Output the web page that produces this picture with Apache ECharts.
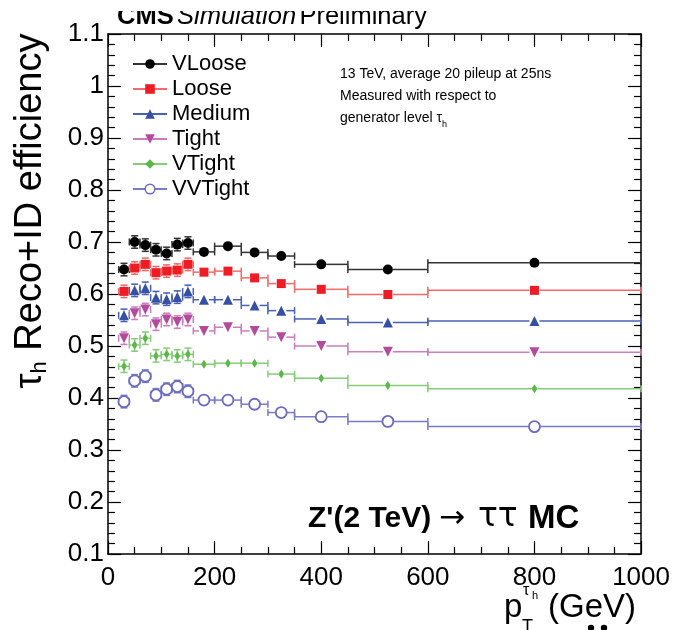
<!DOCTYPE html>
<html>
<head>
<meta charset="utf-8">
<script src="https://cdn.jsdelivr.net/npm/echarts@6/dist/echarts.min.js"></script>
<style>
  html, body { margin: 0; padding: 0; background: #fff; }
  #chart { width: 673px; height: 630px; }
</style>
</head>
<body>
<div id="chart"></div>
<script>
// Bin layout in generator-level tau pT (GeV)
const ptCenters = [30, 50, 70, 90, 110, 130, 150, 180, 225, 275, 325, 400, 525, 800];
const binLow    = [20, 40, 60, 80, 100, 120, 140, 160, 200, 250, 300, 350, 450, 600];
const binHigh   = [40, 60, 80, 100, 120, 140, 160, 200, 250, 300, 350, 450, 600, 1000];

// Reco+ID efficiency per working point
const vloose  = [0.647, 0.700, 0.694, 0.685, 0.678, 0.695, 0.698, 0.681, 0.692, 0.680, 0.673, 0.657, 0.647, 0.660];
const loose   = [0.605, 0.650, 0.657, 0.641, 0.644, 0.646, 0.657, 0.642, 0.644, 0.631, 0.620, 0.609, 0.599, 0.607];
const medium  = [0.559, 0.607, 0.611, 0.593, 0.590, 0.594, 0.605, 0.589, 0.589, 0.578, 0.568, 0.552, 0.545, 0.548];
const tight   = [0.515, 0.563, 0.570, 0.542, 0.551, 0.546, 0.551, 0.529, 0.536, 0.529, 0.517, 0.500, 0.489, 0.488];
const vtight  = [0.461, 0.502, 0.515, 0.481, 0.484, 0.481, 0.484, 0.465, 0.467, 0.467, 0.446, 0.438, 0.424, 0.418];
const vvtight = [0.393, 0.433, 0.442, 0.406, 0.417, 0.422, 0.413, 0.396, 0.396, 0.388, 0.372, 0.364, 0.355, 0.345];

// Statistical uncertainty per bin
const statErr = [0.012, 0.012, 0.012, 0.012, 0.012, 0.012, 0.012, 0.004, 0.004, 0.004, 0.004, 0.003, 0.003, 0.003];

// Axis ticks
const xTicks = [0, 200, 400, 600, 800, 1000];
const yTicks = [0.1, 0.2, 0.3, 0.4, 0.5, 0.6, 0.7, 0.8, 0.9, 1.0, 1.1];

const FONT = '"Liberation Sans", Arial, Helvetica, sans-serif';

const workingPoints = [
  { name: 'VLoose',  values: vloose,  color: '#000000', line: '#333333', symbol: 'circle',   size: 10, gap: 5, hollow: false },
  { name: 'Loose',   values: loose,   color: '#ee1c24', line: '#f26a6a', symbol: 'rect',     size: 9,  gap: 5, hollow: false },
  { name: 'Medium',  values: medium,  color: '#3650a6', line: '#4a60b0', symbol: 'triangle', size: 10, gap: 5, hollow: false },
  { name: 'Tight',   values: tight,   color: '#b44a9e', line: '#cc7cbc', symbol: 'path://M0,0 L10,0 L5,9 Z', size: 10, gap: 5, hollow: false },
  { name: 'VTight',  values: vtight,  color: '#5cb84a', line: '#86cc78', symbol: 'diamond',  size: [6, 9], gap: 3, hollow: false },
  { name: 'VVTight', values: vvtight, color: '#6a6abf', line: '#7a7ac6', symbol: 'circle',   size: 11, gap: 6, hollow: true }
];

function errorBarRenderer(gap, color) {
  return function (params, api) {
    const x = api.value(0), y = api.value(1);
    const xl = api.value(2), xh = api.value(3);
    const yl = api.value(4), yh = api.value(5);
    const c = api.coord([x, y]);
    const l = api.coord([xl, y]);
    const r = api.coord([xh, y]);
    const t = api.coord([x, yh]);
    const b = api.coord([x, yl]);
    const style = { stroke: color, lineWidth: 1.5 };
    const cap = 3.5;
    const kids = [];
    const seg = (x1, y1, x2, y2) => kids.push({ type: 'line', shape: { x1, y1, x2, y2 }, style });
    // horizontal bin-width bar, broken around the marker
    if (l[0] < c[0] - gap) seg(l[0], c[1], c[0] - gap, c[1]);
    if (r[0] > c[0] + gap) seg(c[0] + gap, c[1], r[0], c[1]);
    seg(l[0], c[1] - cap, l[0], c[1] + cap);
    seg(r[0], c[1] - cap, r[0], c[1] + cap);
    // vertical statistical bar
    if (t[1] < c[1] - gap) {
      seg(c[0], c[1] - gap, c[0], t[1]);
      seg(c[0] - cap, t[1], c[0] + cap, t[1]);
    }
    if (b[1] > c[1] + gap) {
      seg(c[0], c[1] + gap, c[0], b[1]);
      seg(c[0] - cap, b[1], c[0] + cap, b[1]);
    }
    return { type: 'group', children: kids };
  };
}

const series = [];
workingPoints.forEach(function (wp) {
  series.push({
    name: wp.name + ' err',
    type: 'custom',
    xAxisIndex: 0, yAxisIndex: 0,
    z: 2,
    silent: true,
    renderItem: errorBarRenderer(wp.gap, wp.line),
    data: ptCenters.map((p, i) => [p, wp.values[i], binLow[i], binHigh[i], wp.values[i] - statErr[i], wp.values[i] + statErr[i]])
  });
  series.push({
    name: wp.name,
    type: 'line',
    xAxisIndex: 0, yAxisIndex: 0,
    z: 3,
    symbol: wp.symbol,
    symbolSize: wp.size,
    showAllSymbol: true,
    lineStyle: { width: 0, opacity: 0, color: wp.line },
    itemStyle: wp.hollow
      ? { color: '#ffffff', borderColor: wp.color, borderWidth: 1.8 }
      : { color: wp.color, borderWidth: 0 },
    emphasis: { disabled: true },
    animation: false,
    data: ptCenters.map((p, i) => [p, wp.values[i]])
  });
});

const axisCommon = {
  axisLine: { show: true, onZero: false, lineStyle: { color: '#000', width: 1.5 } },
  splitLine: { show: false },
};
const tickStyle = { show: true, inside: true, length: 13, lineStyle: { color: '#000', width: 1.2 } };

const option = {
  animation: false,
  backgroundColor: '#ffffff',
  grid: { left: 108, right: 27, top: 34, bottom: 76, containLabel: false },
  legend: {
    orient: 'vertical',
    left: 127,
    top: 48,
    itemWidth: 34,
    itemHeight: 12,
    itemGap: 3,
    textStyle: { fontSize: 22, fontFamily: FONT, color: '#000' },
    selectedMode: false,
    data: workingPoints.map(wp => ({
      name: wp.name,
      lineStyle: { width: 2, opacity: 1, color: wp.line },
      itemStyle: wp.hollow
        ? { color: '#ffffff', borderColor: wp.color, borderWidth: 1.5 }
        : { color: wp.color }
    }))
  },
  xAxis: [
    Object.assign({}, axisCommon, {
      type: 'value', position: 'bottom',
      min: xTicks[0], max: xTicks[xTicks.length - 1], interval: 200,
      axisTick: tickStyle,
      minorTick: { show: true, splitNumber: 4, length: 7, lineStyle: { color: '#000', width: 1.2 } },
      axisLabel: { show: true, margin: 11, fontSize: 26, fontFamily: FONT, color: '#000',
        formatter: v => String(Math.round(v)) }
    }),
    Object.assign({}, axisCommon, {
      type: 'value', position: 'top',
      min: xTicks[0], max: xTicks[xTicks.length - 1], interval: 200,
      axisTick: tickStyle,
      minorTick: { show: true, splitNumber: 4, length: 7, lineStyle: { color: '#000', width: 1.2 } },
      axisLabel: { show: false }
    })
  ],
  yAxis: [
    Object.assign({}, axisCommon, {
      type: 'value', position: 'left',
      min: yTicks[0], max: yTicks[yTicks.length - 1], interval: 0.1,
      axisTick: tickStyle,
      minorTick: { show: true, splitNumber: 5, length: 7, lineStyle: { color: '#000', width: 1.2 } },
      axisLabel: { show: true, margin: 4, fontSize: 26, fontFamily: FONT, color: '#000',
        formatter: v => String(Math.round(v * 10) / 10) }
    }),
    Object.assign({}, axisCommon, {
      type: 'value', position: 'right',
      min: yTicks[0], max: yTicks[yTicks.length - 1], interval: 0.1,
      axisTick: tickStyle,
      minorTick: { show: true, splitNumber: 5, length: 7, lineStyle: { color: '#000', width: 1.2 } },
      axisLabel: { show: false }
    })
  ],
  series: series,
  graphic: [
    // experiment label along the top edge
    {
      type: 'text', left: 117, top: 4, z: 10,
      style: {
        text: '{b|CMS} {i|Simulation} {n|Preliminary}',
        rich: {
          b: { fontSize: 25.5, fontWeight: 'bold', fontFamily: FONT, fill: '#000' },
          i: { fontSize: 25.5, fontStyle: 'italic', fontFamily: FONT, fill: '#000' },
          n: { fontSize: 25.5, fontFamily: FONT, fill: '#000' }
        }
      }
    },
    // white band across the page top that hides the upper part of that label
    { type: 'rect', shape: { x: 90, y: 0, width: 360, height: 11 }, style: { fill: '#ffffff' }, z: 11 },
    // conditions note
    {
      type: 'text', left: 340, top: 63, z: 10,
      style: {
        text: '13 TeV, average 20 pileup at 25ns\nMeasured with respect to\ngenerator level {t|τ}{s|h}',
        font: '14px ' + FONT, fill: '#000', lineHeight: 22,
        rich: {
          t: { fontSize: 14, fontFamily: FONT, fill: '#000', lineHeight: 22 },
          s: { fontSize: 9, fontFamily: FONT, fill: '#000', verticalAlign: 'bottom', lineHeight: 22, padding: [8, 0, 0, 0] }
        }
      }
    },
    // process label: Z'(2 TeV) -> tau tau MC
    { type: 'text', left: 308, top: 504, z: 10,
      style: { text: "Z'(2 TeV)", font: 'bold 30px ' + FONT, fill: '#000' } },
    { type: 'text', left: 439, top: 503, z: 10,
      style: { text: '→', font: '31px "DejaVu Sans", ' + FONT, fill: '#000' } },
    { type: 'text', left: 478, top: 501, z: 10,
      style: { text: 'ττ', font: '33px "DejaVu Sans", ' + FONT, fill: '#000' } },
    { type: 'text', left: 528, top: 502, z: 10,
      style: { text: 'MC', font: 'bold 33px ' + FONT, fill: '#000' } },
    // y-axis title
    {
      type: 'text', x: 31, y: 211, rotation: Math.PI / 2, z: 10,
      style: {
        text: '{t|τ}{s|h} Reco+ID efficiency',
        align: 'center', verticalAlign: 'middle',
        rich: {
          t: { fontSize: 38, fontFamily: FONT, fill: '#000' },
          s: { fontSize: 22, fontFamily: FONT, fill: '#000', padding: [18, 0, 0, 0] }
        },
        font: '38px ' + FONT, fill: '#000'
      }
    },
    // x-axis title: p_T^{tau_h} (GeV)
    { type: 'text', left: 504, top: 591, z: 10,
      style: { text: 'p', font: '33px ' + FONT, fill: '#000' } },
    { type: 'text', left: 522, top: 618, z: 10,
      style: { text: 'T', font: '18px ' + FONT, fill: '#000' } },
    { type: 'text', left: 523, top: 583, z: 10,
      style: { text: 'τ', font: '16px ' + FONT, fill: '#000' } },
    { type: 'text', left: 532, top: 590, z: 10,
      style: { text: 'h', font: '11px ' + FONT, fill: '#000' } },
    { type: 'text', left: 548, top: 591, z: 10,
      style: { text: '(GeV)', font: '33px ' + FONT, fill: '#000' } },
    // stray marks at the bottom edge
    { type: 'circle', shape: { cx: 591, cy: 628, r: 3.2 }, style: { fill: '#000' }, z: 10 },
    { type: 'circle', shape: { cx: 604, cy: 628, r: 3.2 }, style: { fill: '#000' }, z: 10 }
  ]
};

const chart = echarts.init(document.getElementById('chart'), null, { renderer: 'canvas' });
chart.setOption(option);
</script>
</body>
</html>
